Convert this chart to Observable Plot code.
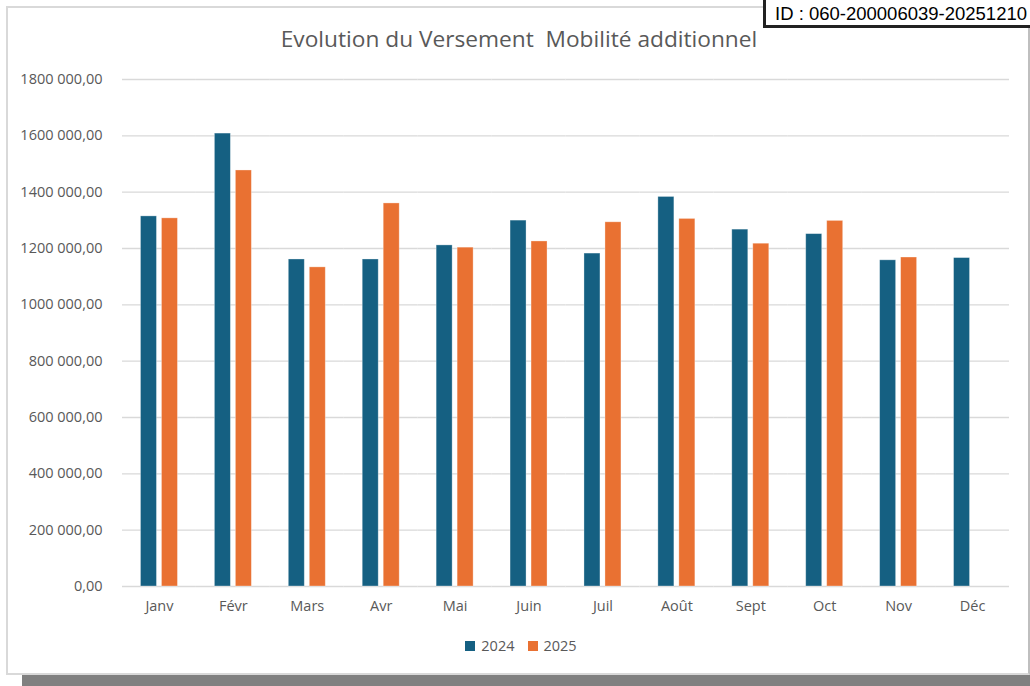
<!DOCTYPE html>
<html>
<head>
<meta charset="utf-8">
<script src="https://cdn.jsdelivr.net/npm/d3@7"></script>
<script src="https://cdn.jsdelivr.net/npm/@observablehq/plot@0.6"></script>
<style>
  html, body { margin: 0; padding: 0; background: #fff; }
  body { width: 1030px; height: 686px; position: relative; overflow: hidden; font-family: "Open Sans", Lato, sans-serif; }
  #shadow { position: absolute; left: 22px; top: 675px; width: 1020px; height: 14px; background: #808080; }
  #frame { position: absolute; left: 6px; top: 6px; width: 1020px; height: 665px; border: 2px solid #d9d9d9; border-right-color: #bfbfbf; background: #fff; }
  #chart { position: absolute; left: 0; top: 0; }
  #title { position: absolute; left: 0; width: 1038px; top: 23px; text-align: center; font-size: 22.7px; color: #595959; white-space: pre; }
  #legend { position: absolute; top: 636px; left: 0; width: 1042px; display: flex; justify-content: center; gap: 13px; font-size: 14.5px; color: #595959; }
  #legend span.item { display: flex; align-items: center; gap: 6px; }
  #legend span.sw { width: 10px; height: 10px; display: inline-block; }
  #id { position: absolute; left: 763px; top: -3px; width: 280px; height: 31px; border: 3px solid #222; background: #fff; font-family: "Liberation Sans", Arial, sans-serif; font-size: 18.5px; color: #000; line-height: 28px; padding-left: 9px; box-sizing: border-box; white-space: nowrap; }
</style>
</head>
<body>
<div id="shadow"></div>
<div id="frame"></div>
<div id="chart"></div>
<div id="title">Evolution du Versement  Mobilité additionnel</div>
<div id="legend"></div>
<div id="id">ID : 060-200006039-20251210</div>
<script>
const months = ["Janv", "Févr", "Mars", "Avr", "Mai", "Juin", "Juil", "Août", "Sept", "Oct", "Nov", "Déc"];
const years = ["2024", "2025"];
const values2024 = [1314000, 1608000, 1161000, 1161000, 1211000, 1299000, 1182000, 1383000, 1267000, 1251000, 1158000, 1166000];
const values2025 = [1307000, 1477000, 1133000, 1360000, 1203000, 1225000, 1293000, 1305000, 1217000, 1298000, 1168000, null];
const yTicks = [0, 200000, 400000, 600000, 800000, 1000000, 1200000, 1400000, 1600000, 1800000];
const colors = ["#156082", "#E97132"];

const data = [];
months.forEach((m, i) => {
  if (values2024[i] != null) data.push({month: m, year: "2024", value: values2024[i]});
  if (values2025[i] != null) data.push({month: m, year: "2025", value: values2025[i]});
});

function fmt(v) {
  const s = Math.round(v).toString();
  const head = s.length > 3 ? s.slice(0, -3) + " " + s.slice(-3) : s;
  return head + ",00";
}

const chart = Plot.plot({
  width: 1030,
  height: 630,
  marginTop: 79,
  marginBottom: 44,
  marginLeft: 122,
  marginRight: 21,
  style: { fontFamily: "'Open Sans', Lato, sans-serif", fontSize: "14.5px", color: "#595959", background: "transparent" },
  fx: { domain: months, padding: 0, round: false, label: null, axis: "bottom", tickSize: 0, tickPadding: 14 },
  x: { domain: years, axis: null, round: false, paddingInner: 0.238, paddingOuter: 0.88 },
  y: { domain: [0, 1800000], ticks: yTicks, tickFormat: fmt, tickSize: 0, tickPadding: 20, label: null },
  color: { domain: years, range: colors },
  marks: [
    Plot.ruleY(yTicks, { stroke: "#d9d9d9", strokeWidth: 1.4 }),
    Plot.barY(data, { fx: "month", x: "year", y: "value", fill: "year", stroke: "#ffffff", strokeOpacity: 0.4, strokeWidth: 0.8 })
  ]
});
document.getElementById("chart").appendChild(chart);

const legend = document.getElementById("legend");
years.forEach((y, i) => {
  const item = document.createElement("span");
  item.className = "item";
  const sw = document.createElement("span");
  sw.className = "sw";
  sw.style.background = colors[i];
  item.appendChild(sw);
  item.appendChild(document.createTextNode(y));
  legend.appendChild(item);
});
</script>
</body>
</html>
